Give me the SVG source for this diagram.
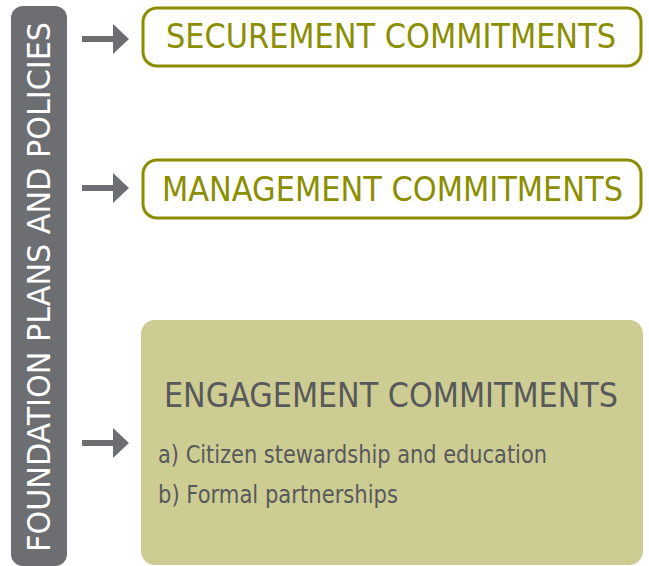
<svg xmlns="http://www.w3.org/2000/svg" width="649" height="566" viewBox="0 0 649 566">
<style>
.txt{font-family:"DejaVu Sans Condensed","Roboto","Liberation Sans",sans-serif;}
.olive{fill:#8b8e00;font-size:34px;}
.ob{fill:#ffffff;stroke:#8b8e00;stroke-width:3;}
.arrow{fill:#6d6e71;}
</style>
<defs>
<path id="arr" d="M82,-3 H113 V-15 L129,0 L113,15 V3 H82 Z"/>
</defs>
<g id="foundation">
<rect x="11" y="6" width="56" height="560" rx="12" fill="#6d6e71"/>
<text class="txt" transform="translate(50,552) rotate(-90)" x="0" y="0" font-size="32" fill="#ffffff" textLength="530" lengthAdjust="spacingAndGlyphs">FOUNDATION PLANS AND POLICIES</text>
</g>
<g id="connectors">
<use href="#arr" class="arrow" transform="translate(0,39)"/>
<use href="#arr" class="arrow" transform="translate(0,188)"/>
<use href="#arr" class="arrow" transform="translate(0,443)"/>
</g>
<g id="securement">
<rect class="ob" x="143" y="8" width="498" height="58" rx="14"/>
<text class="txt olive" x="166" y="48" textLength="450" lengthAdjust="spacingAndGlyphs">SECUREMENT COMMITMENTS</text>
</g>
<g id="management">
<rect class="ob" x="143" y="160" width="498" height="58" rx="14"/>
<text class="txt olive" x="162" y="201" textLength="461" lengthAdjust="spacingAndGlyphs">MANAGEMENT COMMITMENTS</text>
</g>
<g id="engagement">
<rect x="141" y="320" width="502" height="245" rx="14" fill="#cdcd93"/>
<text class="txt" x="164" y="407" font-size="33" fill="#58595b" textLength="454" lengthAdjust="spacingAndGlyphs">ENGAGEMENT COMMITMENTS</text>
<text class="txt" x="158" y="463" font-size="24" fill="#58595b" textLength="389" lengthAdjust="spacingAndGlyphs">a) Citizen stewardship and education</text>
<text class="txt" x="158" y="503" font-size="24" fill="#58595b" textLength="240" lengthAdjust="spacingAndGlyphs">b) Formal partnerships</text>
</g>
</svg>
